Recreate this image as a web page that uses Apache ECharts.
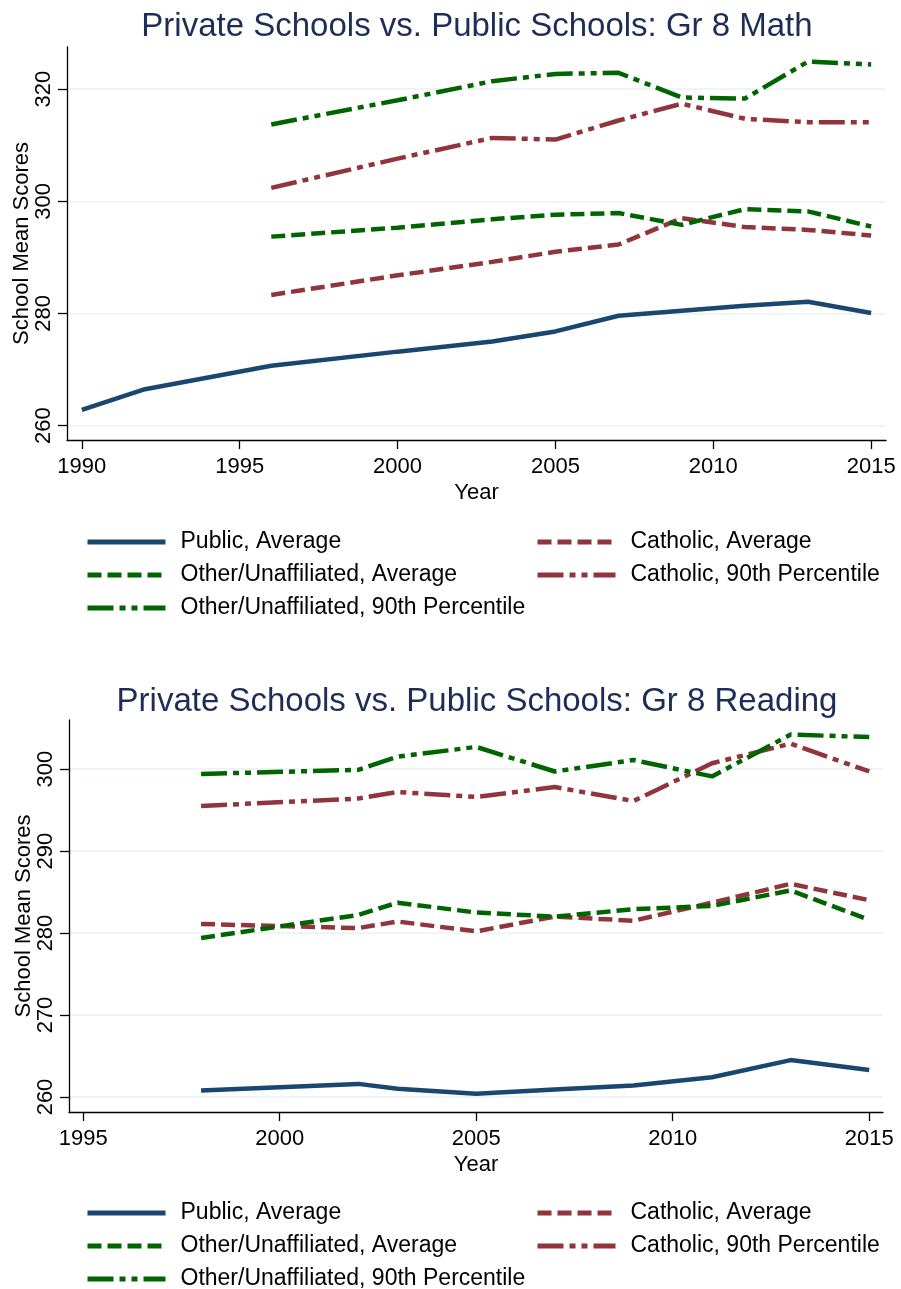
<!DOCTYPE html>
<html>
<head>
<meta charset="utf-8">
<script src="https://cdn.jsdelivr.net/npm/echarts@6/dist/echarts.min.js"></script>
<style>
  html, body { margin: 0; padding: 0; background: #fff; }
  #chart { width: 901px; height: 1289px; }
</style>
</head>
<body>
<div id="chart"></div>
<script>
// ---- data: Gr 8 Math ----
const mathYears = [1990, 1992, 1996, 2000, 2003, 2005, 2007, 2009, 2011, 2013, 2015]
const mathPrivYears = [1996, 2000, 2003, 2005, 2007, 2009, 2011, 2013, 2015]
const mathPublicAvg = [262.8, 266.5, 270.7, 273.2, 275.0, 276.8, 279.6, 280.5, 281.4, 282.1, 280.1]
const mathCatholicAvg = [283.3, 286.8, 289.2, 291.0, 292.3, 297.0, 295.4, 294.9, 293.9]
const mathOtherAvg = [293.7, 295.3, 296.8, 297.6, 297.9, 295.8, 298.6, 298.2, 295.5]
const mathCatholic90 = [302.4, 307.6, 311.3, 311.0, 314.4, 317.4, 314.7, 314.1, 314.1]
const mathOther90 = [313.7, 318.0, 321.4, 322.7, 322.9, 318.5, 318.3, 324.9, 324.4]

// ---- data: Gr 8 Reading ----
const readYears = [1998, 2002, 2003, 2005, 2007, 2009, 2011, 2013, 2015]
const readPublicAvg = [260.8, 261.6, 261.0, 260.4, 260.9, 261.4, 262.4, 264.5, 263.3]
const readCatholicAvg = [281.1, 280.6, 281.4, 280.2, 282.0, 281.5, 283.7, 286.0, 284.0]
const readOtherAvg = [279.4, 282.2, 283.7, 282.5, 282.0, 282.9, 283.3, 285.2, 281.6]
const readCatholic90 = [295.5, 296.4, 297.2, 296.6, 297.8, 296.1, 300.7, 303.1, 299.7]
const readOther90 = [299.4, 299.9, 301.5, 302.7, 299.7, 301.1, 299.1, 304.2, 303.9]

// ---- ticks ----
const mathXTicks = [1990, 1995, 2000, 2005, 2010, 2015]
const mathYTicks = [260, 280, 300, 320]
const readXTicks = [1995, 2000, 2005, 2010, 2015]
const readYTicks = [260, 270, 280, 290, 300]

const names = {
  pub: 'Public, Average',
  cath: 'Catholic, Average',
  oth: 'Other/Unaffiliated, Average',
  cath90: 'Catholic, 90th Percentile',
  oth90: 'Other/Unaffiliated, 90th Percentile'
}

const NAVY = '#1a476f'
const MAROON = '#90353b'
const GREEN = '#006400'
const TITLE = '#1e2d57'
const FONT = '"Liberation Sans", Arial, sans-serif'

const pair = (xs, ys) => xs.map((x, i) => [x, ys[i]])

const dashed = [14, 6]
const dashDot = [26, 6, 6, 6, 6, 6]

function lineSeries (name, data, color, type, idx) {
  return {
    type: 'line',
    name: name,
    xAxisIndex: idx,
    yAxisIndex: idx,
    data: data,
    symbol: 'none',
    animation: false,
    lineStyle: { color: color, width: 4.5, type: type, cap: 'butt' },
    itemStyle: { color: color }
  }
}

function xAxis (idx, min, max, ticks) {
  return {
    type: 'value',
    gridIndex: idx,
    min: min,
    max: max,
    name: 'Year',
    nameLocation: 'middle',
    nameGap: 42,
    nameTextStyle: { fontSize: 22, color: '#000', fontFamily: FONT },
    axisLine: { show: true, onZero: false, lineStyle: { color: '#000', width: 1.3 } },
    axisTick: { show: true, length: 9, customValues: ticks, lineStyle: { color: '#000', width: 1.3 } },
    axisLabel: {
      customValues: ticks, fontSize: 22, color: '#000', margin: 16, fontFamily: FONT,
      formatter: v => String(v)
    },
    splitLine: { show: false }
  }
}

function yAxis (idx, min, max, ticks) {
  return {
    type: 'value',
    gridIndex: idx,
    min: min,
    max: max,
    name: 'School Mean Scores',
    nameLocation: 'middle',
    nameGap: 34,
    nameMoveOverlap: false,
    nameTextStyle: { fontSize: 22, color: '#000', fontFamily: FONT },
    axisLine: { show: true, onZero: false, lineStyle: { color: '#000', width: 1.3 } },
    axisTick: { show: true, length: 9, customValues: ticks, lineStyle: { color: '#000', width: 1.3 } },
    axisLabel: { customValues: ticks, rotate: 90, fontSize: 22, color: '#000', margin: 12, fontFamily: FONT },
    splitLine: { show: true, lineStyle: { color: '#eaf1f3', width: 1.5 } }
  }
}

function legends (top) {
  const common = {
    orient: 'vertical',
    padding: 0,
    height: 120,
    itemWidth: 78,
    itemHeight: 14,
    itemGap: 10,
    selectedMode: false,
    itemStyle: { opacity: 0 },
    lineStyle: { width: 5 },
    textStyle: { fontSize: 23, lineHeight: 23, color: '#000', fontFamily: FONT, padding: [0, 0, 0, 10] }
  }
  return [
    Object.assign({}, common, { left: 85, top: top, data: [names.pub, names.oth, names.oth90] }),
    Object.assign({}, common, { left: 535, top: top, data: [names.cath, names.cath90] })
  ]
}

const chart = echarts.init(document.getElementById('chart'))

const option = {
  animation: false,
  backgroundColor: '#fff',
  title: [
    {
      text: 'Private Schools vs. Public Schools: Gr 8 Math',
      left: 472, top: 5, textAlign: 'center',
      textStyle: { fontSize: 33, fontWeight: 'normal', color: TITLE, fontFamily: FONT }
    },
    {
      text: 'Private Schools vs. Public Schools: Gr 8 Reading',
      left: 472, top: 680, textAlign: 'center',
      textStyle: { fontSize: 33, fontWeight: 'normal', color: TITLE, fontFamily: FONT }
    }
  ],
  legend: legends(530.5).concat(legends(1201.5)),
  grid: [
    { left: 67, right: 15, top: 47, height: 393, outerBoundsMode: 'none' },
    { left: 69, right: 18, top: 720, height: 392, outerBoundsMode: 'none' }
  ],
  xAxis: [
    xAxis(0, 1989.53, 2015.47, mathXTicks),
    xAxis(1, 1994.64, 2015.35, readXTicks)
  ],
  yAxis: [
    yAxis(0, 257.45, 327.5, mathYTicks),
    yAxis(1, 258.17, 305.98, readYTicks)
  ],
  series: [
    lineSeries(names.pub, pair(mathYears, mathPublicAvg), NAVY, 'solid', 0),
    lineSeries(names.cath, pair(mathPrivYears, mathCatholicAvg), MAROON, dashed, 0),
    lineSeries(names.oth, pair(mathPrivYears, mathOtherAvg), GREEN, dashed, 0),
    lineSeries(names.cath90, pair(mathPrivYears, mathCatholic90), MAROON, dashDot, 0),
    lineSeries(names.oth90, pair(mathPrivYears, mathOther90), GREEN, dashDot, 0),
    lineSeries(names.pub, pair(readYears, readPublicAvg), NAVY, 'solid', 1),
    lineSeries(names.cath, pair(readYears, readCatholicAvg), MAROON, dashed, 1),
    lineSeries(names.oth, pair(readYears, readOtherAvg), GREEN, dashed, 1),
    lineSeries(names.cath90, pair(readYears, readCatholic90), MAROON, dashDot, 1),
    lineSeries(names.oth90, pair(readYears, readOther90), GREEN, dashDot, 1)
  ]
}

chart.setOption(option)
</script>
</body>
</html>
